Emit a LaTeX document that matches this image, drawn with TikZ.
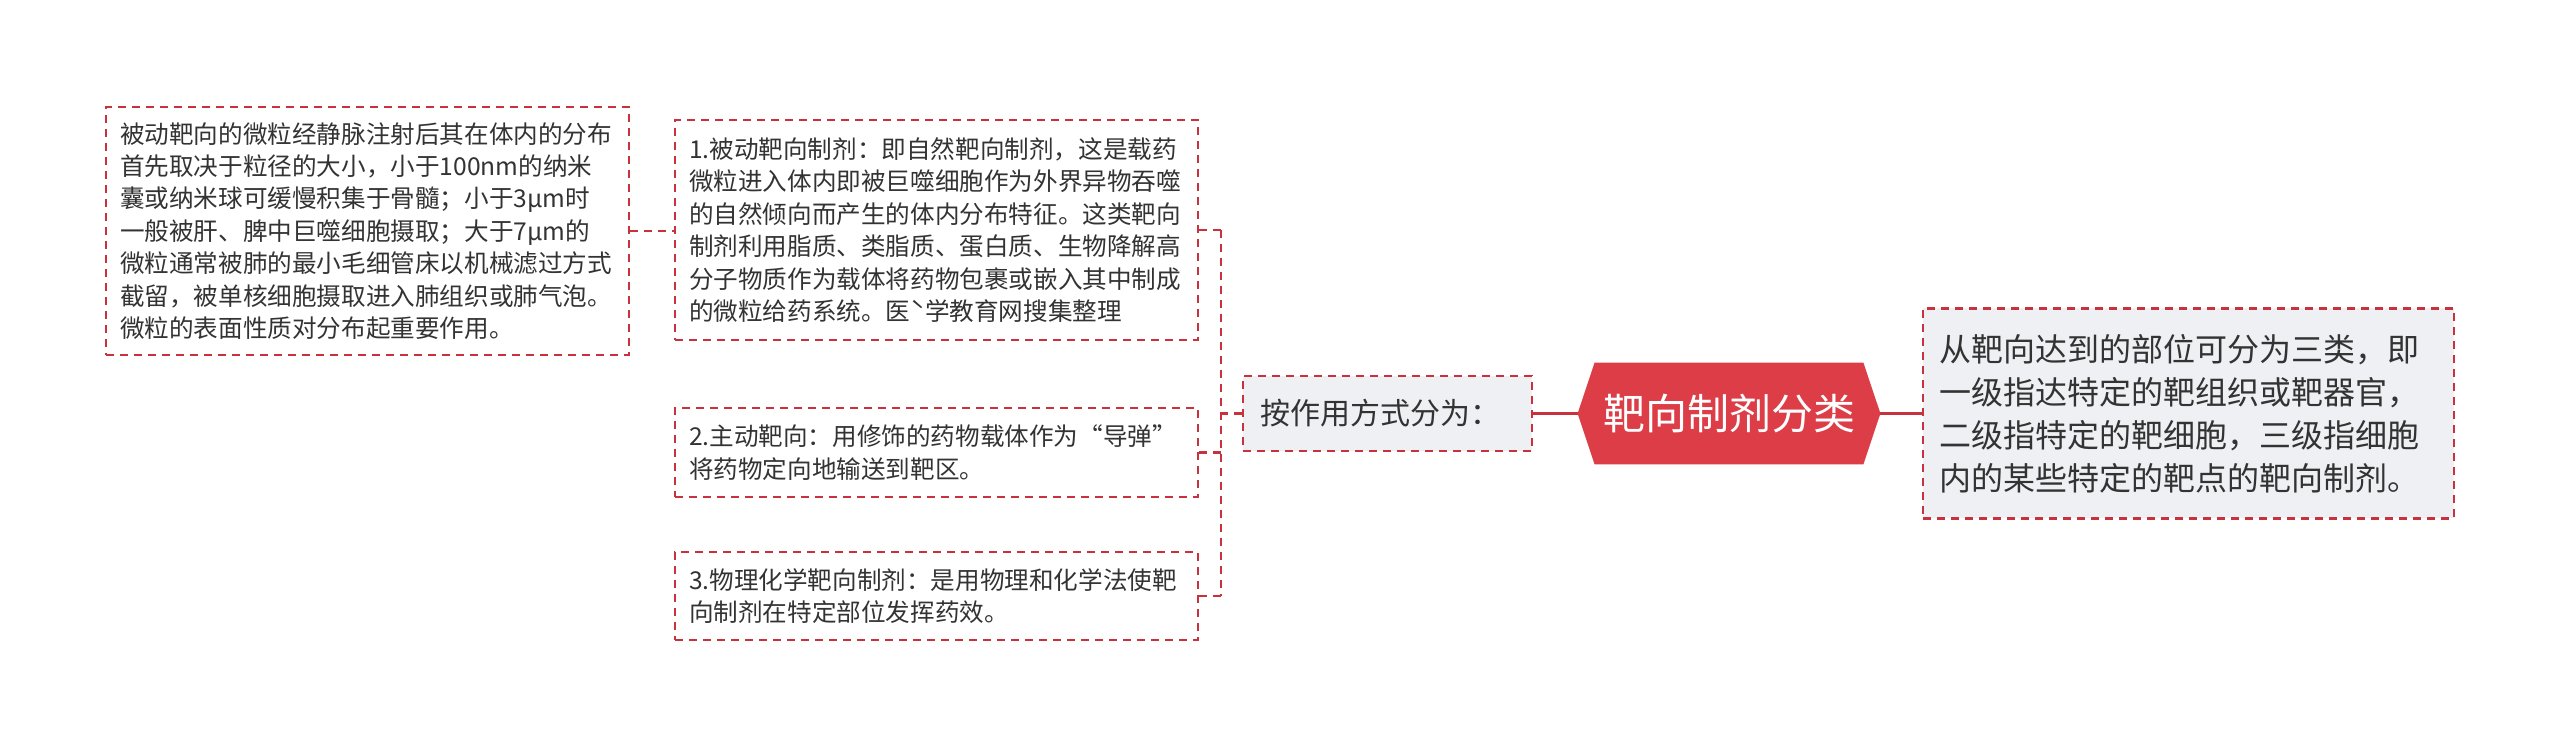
\documentclass[tikz,border=0pt]{standalone}
\usepackage{fontspec}
\newfontfamily\cjk{Noto Sans CJK SC}
\usetikzlibrary{backgrounds}
\definecolor{mapred}{HTML}{C8323C}
\definecolor{rootred}{HTML}{DC3D47}
\definecolor{boxgray}{HTML}{EEF0F4}
\definecolor{inkgray}{HTML}{333333}
\tikzset{
  leaf/.style={draw=mapred,dash pattern=on 4pt off 3pt,line width=1.1pt,fill=white,
    inner xsep=7pt,inner ysep=0pt,minimum width=261.5pt,text width=247.5pt,
    align=left,text=inkgray,font=\fontsize{12.3}{16.2}\selectfont\cjk},
  branch/.style={leaf,fill=boxgray,minimum width=144.5pt,text width=127pt,
    inner xsep=8.5pt,minimum height=37.5pt,font=\fontsize{15}{18}\selectfont\cjk},
  note/.style={leaf,fill=boxgray,minimum width=265.5pt,text width=249.5pt,
    inner xsep=8pt,minimum height=105pt,font=\fontsize{16}{21.5}\selectfont\cjk},
  rootnode/.style={minimum width=151pt,minimum height=50.5pt,inner sep=0pt,
    text=white,font=\fontsize{21}{24}\selectfont\cjk},
  link/.style={draw=mapred,dash pattern=on 4pt off 3pt,line width=1.1pt},
  rootlink/.style={draw=mapred,line width=1.6pt}
}
\begin{document}
\begin{tikzpicture}[x=0.5pt,y=-0.5pt]
    \useasboundingbox (0,0) rectangle (2560,747);
    % the centre and its two sides
    \node[rootnode] (root) at (1729,413.5) {靶向制剂分类};
    \begin{scope}[on background layer]
        \fill[rootred] (root.west) -- ([xshift=8.5pt]root.north west)
            -- ([xshift=-8.5pt]root.north east) -- (root.east)
            -- ([xshift=-8.5pt]root.south east) -- ([xshift=8.5pt]root.south west) -- cycle;
    \end{scope}
    \node[note] (levels) at (2188.5,413.5) {从靶向达到的部位可分为三类，即\\一级指达特定的靶组织或靶器官，\\二级指特定的靶细胞，三级指细胞\\内的某些特定的靶点的靶向制剂。};
    \node[branch] (mode) at (1387.5,413.5) {按作用方式分为：};
    \draw[rootlink] (root.west) -- (mode.east);
    \draw[rootlink] (root.east) -- (root.east -| levels.west);
    % the three kinds
    \node[leaf,minimum height=110pt] (passive) at (936.5,230) {1.被动靶向制剂：即自然靶向制剂，这是载药\\微粒进入体内即被巨噬细胞作为外界异物吞噬\\的自然倾向而产生的体内分布特征。这类靶向\\制剂利用脂质、类脂质、蛋白质、生物降解高\\分子物质作为载体将药物包裹或嵌入其中制成\\的微粒给药系统。医ˋ学教育网搜集整理};
    \node[leaf,minimum height=44.5pt] (active) at (936.5,452.5) {2.主动靶向：用修饰的药物载体作为“导弹”\\将药物定向地输送到靶区。};
    \node[leaf,minimum height=44pt] (physchem) at (936.5,596) {3.物理化学靶向制剂：是用物理和化学法使靶\\向制剂在特定部位发挥药效。};
    \coordinate (trunk) at (1221,413.5);
    \draw[link] (mode.west) -- (trunk);
    \draw[link] (trunk |- passive.east) -- (trunk |- physchem.east);
    \foreach \kind in {passive,active,physchem}
        \draw[link] (trunk |- \kind.east) -- (\kind.east);
    % detail of the passive kind
    \node[leaf,minimum height=124pt] (particle) at (367.5,231) {被动靶向的微粒经静脉注射后其在体内的分布\\首先取决于粒径的大小，小于100nm的纳米\\囊或纳米球可缓慢积集于骨髓；小于3μm时\\一般被肝、脾中巨噬细胞摄取；大于7μm的\\微粒通常被肺的最小毛细管床以机械滤过方式\\截留，被单核细胞摄取进入肺组织或肺气泡。\\微粒的表面性质对分布起重要作用。};
    \draw[link] (particle.east) -- (particle.east -| passive.west);
\end{tikzpicture}
\end{document}
